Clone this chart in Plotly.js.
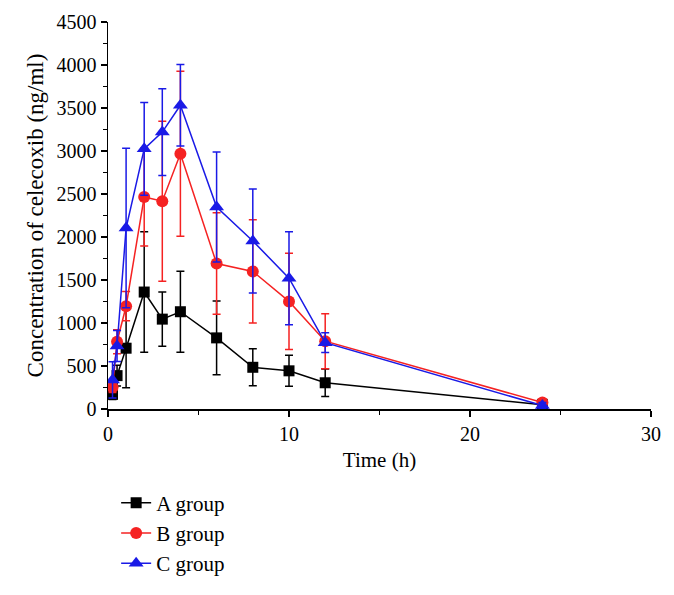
<!DOCTYPE html>
<html>
<head>
<meta charset="utf-8">
<script src="https://cdn.plot.ly/plotly-3.0.1.min.js"></script>
<style>body{margin:0;background:#fff}#chart{width:674px;height:595px}</style>
</head>
<body>
<div id="chart"></div>
<script>
const timeH = [0.25, 0.5, 1, 2, 3, 4, 6, 8, 10, 12, 24];
const groupA = [170, 388, 707, 1360, 1045, 1131, 827, 485, 444, 305, 50];
const groupA_sd = [60, 120, 460, 700, 315, 470, 430, 215, 180, 160, 30];
const groupB = [252, 782, 1195, 2465, 2416, 2968, 1691, 1600, 1251, 789, 75];
const groupB_sd = [60, 140, 170, 570, 930, 960, 590, 600, 560, 320, 40];
const groupC = [338, 733, 2104, 3025, 3220, 3532, 2349, 1954, 1521, 771, 40];
const groupC_sd = [210, 180, 928, 540, 505, 475, 640, 605, 540, 115, 35];
const names = ["A group", "B group", "C group"];
const colors = ["#000000", "#f52222", "#1a1ae6"];
const symbols = ["square", "circle", "triangle-up"];
const sizes = [11, 12, 13];

const ys = [groupA, groupB, groupC];
const sds = [groupA_sd, groupB_sd, groupC_sd];
const font = "'Liberation Serif', 'DejaVu Serif', serif";

const traces = ys.map((y, i) => ({
  type: "scatter",
  mode: "lines+markers",
  name: names[i],
  x: timeH,
  y: y,
  line: {color: colors[i], width: 1.5},
  marker: {color: colors[i], symbol: symbols[i], size: sizes[i]},
  error_y: {type: "data", array: sds[i], visible: true, color: colors[i], thickness: 1.5, width: 4}
}));

const layout = {
  width: 674, height: 595,
  margin: {l: 108, r: 23, t: 22, b: 173},
  paper_bgcolor: "#fff", plot_bgcolor: "#fff",
  font: {family: font, size: 20, color: "#000"},
  showlegend: true,
  legend: {x: 0.015, xanchor: "left", y: -0.19, yanchor: "top", font: {family: font, size: 21, color: "#000"}, bgcolor: "rgba(0,0,0,0)"},
  xaxis: {
    range: [0, 30], tick0: 0, dtick: 10, ticks: "outside", ticklen: 6, tickwidth: 1.5, tickcolor: "#000",
    showline: true, linewidth: 1.5, linecolor: "#000", showgrid: false, zeroline: false,
    minor: {dtick: 5, ticks: "outside", ticklen: 4, tickwidth: 1.5, tickcolor: "#000"},
    tickfont: {family: font, size: 20},
    title: {text: "Time (h)", font: {family: font, size: 21}, standoff: 9}
  },
  yaxis: {
    range: [0, 4500], tick0: 0, dtick: 500, ticks: "outside", ticklen: 6, tickwidth: 1.5, tickcolor: "#000",
    showline: true, linewidth: 1.5, linecolor: "#000", showgrid: false, zeroline: false,
    minor: {dtick: 250, ticks: "outside", ticklen: 4, tickwidth: 1.5, tickcolor: "#000"},
    tickfont: {family: font, size: 20},
    title: {text: "Concentration of celecoxib (ng/ml)", font: {family: font, size: 23}, standoff: 6}
  }
};

Plotly.newPlot("chart", traces, layout, {displayModeBar: false, staticPlot: true});
</script>
</body>
</html>
